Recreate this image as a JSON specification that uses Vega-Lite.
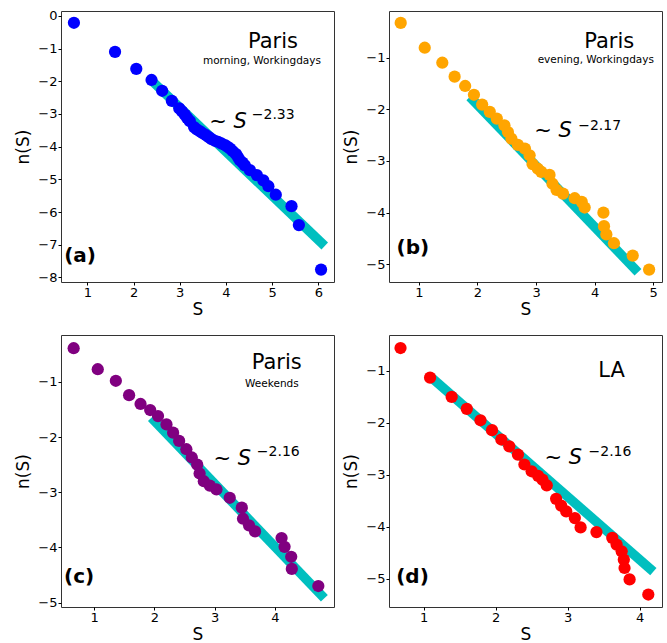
{
  "$schema": "https://vega.github.io/schema/vega-lite/v6.json",
  "autosize": {"type": "pad"},
  "padding": {"left": 14, "top": 9, "right": 4, "bottom": 4},
  "background": "white",
  "config": {
    "font": "DejaVu Sans",
    "view": {"stroke": "#333333", "strokeWidth": 1},
    "axis": {
      "grid": false, "domain": false,
      "tickColor": "#000000", "tickSize": 3, "tickWidth": 1, "tickCount": 20,
      "labelFont": "DejaVu Sans", "labelFontSize": 13, "labelColor": "#000000", "labelPadding": 1, "labelFlush": false, "labelOverlap": false,
      "titleFont": "DejaVu Sans", "titleFontSize": 17, "titleFontWeight": "normal", "titleColor": "#000000"
    },
    "axisX": {"titlePadding": 2},
    "axisY": {"titlePadding": 5}
  },
  "datasets": {
    "pa": [
      {"S": 0.71, "n": -0.21}, {"S": 1.60, "n": -1.10}, {"S": 2.06, "n": -1.62}, {"S": 2.39, "n": -1.96},
      {"S": 2.62, "n": -2.29}, {"S": 2.83, "n": -2.60}, {"S": 2.99, "n": -2.83}, {"S": 3.05, "n": -2.92},
      {"S": 3.11, "n": -3.02}, {"S": 3.16, "n": -3.12}, {"S": 3.22, "n": -3.22}, {"S": 3.31, "n": -3.40},
      {"S": 3.37, "n": -3.47}, {"S": 3.44, "n": -3.53}, {"S": 3.50, "n": -3.59}, {"S": 3.57, "n": -3.65},
      {"S": 3.63, "n": -3.71}, {"S": 3.69, "n": -3.77}, {"S": 3.76, "n": -3.82}, {"S": 3.83, "n": -3.85},
      {"S": 3.90, "n": -3.90}, {"S": 3.98, "n": -3.95}, {"S": 4.03, "n": -4.00}, {"S": 4.09, "n": -4.06},
      {"S": 4.15, "n": -4.14}, {"S": 4.22, "n": -4.23}, {"S": 4.26, "n": -4.32}, {"S": 4.30, "n": -4.41},
      {"S": 4.36, "n": -4.49}, {"S": 4.41, "n": -4.57}, {"S": 4.52, "n": -4.72}, {"S": 4.67, "n": -4.87},
      {"S": 4.81, "n": -5.03}, {"S": 4.92, "n": -5.21}, {"S": 5.08, "n": -5.47}, {"S": 5.42, "n": -5.82},
      {"S": 5.58, "n": -6.40}, {"S": 6.06, "n": -7.76}
    ],
    "pb": [
      {"S": 0.69, "n": -0.33}, {"S": 1.10, "n": -0.81}, {"S": 1.40, "n": -1.10}, {"S": 1.61, "n": -1.37},
      {"S": 1.79, "n": -1.55}, {"S": 1.94, "n": -1.72}, {"S": 2.08, "n": -1.91}, {"S": 2.21, "n": -2.05},
      {"S": 2.33, "n": -2.18}, {"S": 2.46, "n": -2.31}, {"S": 2.52, "n": -2.44}, {"S": 2.58, "n": -2.57},
      {"S": 2.69, "n": -2.69}, {"S": 2.81, "n": -2.76}, {"S": 2.89, "n": -2.89}, {"S": 2.94, "n": -3.06},
      {"S": 3.03, "n": -3.15}, {"S": 3.09, "n": -3.21}, {"S": 3.23, "n": -3.27}, {"S": 3.28, "n": -3.44},
      {"S": 3.35, "n": -3.56}, {"S": 3.46, "n": -3.63}, {"S": 3.66, "n": -3.72}, {"S": 3.78, "n": -3.79},
      {"S": 3.83, "n": -3.90}, {"S": 4.15, "n": -4.00}, {"S": 4.16, "n": -4.26}, {"S": 4.20, "n": -4.42},
      {"S": 4.33, "n": -4.59}, {"S": 4.65, "n": -4.83}, {"S": 4.93, "n": -5.10}
    ],
    "pc": [
      {"S": 0.66, "n": -0.39}, {"S": 1.06, "n": -0.77}, {"S": 1.36, "n": -0.98}, {"S": 1.58, "n": -1.24},
      {"S": 1.77, "n": -1.40}, {"S": 1.93, "n": -1.51}, {"S": 2.06, "n": -1.62}, {"S": 2.20, "n": -1.77},
      {"S": 2.31, "n": -1.92}, {"S": 2.41, "n": -2.07}, {"S": 2.53, "n": -2.22}, {"S": 2.62, "n": -2.37},
      {"S": 2.71, "n": -2.50}, {"S": 2.75, "n": -2.66}, {"S": 2.82, "n": -2.80}, {"S": 2.92, "n": -2.88},
      {"S": 3.03, "n": -2.95}, {"S": 3.25, "n": -3.10}, {"S": 3.45, "n": -3.28}, {"S": 3.47, "n": -3.48},
      {"S": 3.57, "n": -3.60}, {"S": 3.67, "n": -3.71}, {"S": 4.11, "n": -3.83}, {"S": 4.16, "n": -3.99},
      {"S": 4.27, "n": -4.17}, {"S": 4.28, "n": -4.39}, {"S": 4.72, "n": -4.70}
    ],
    "pd": [
      {"S": 0.68, "n": -0.56}, {"S": 1.09, "n": -1.13}, {"S": 1.39, "n": -1.50}, {"S": 1.60, "n": -1.73},
      {"S": 1.79, "n": -1.95}, {"S": 1.95, "n": -2.14}, {"S": 2.08, "n": -2.32}, {"S": 2.19, "n": -2.45},
      {"S": 2.31, "n": -2.61}, {"S": 2.40, "n": -2.80}, {"S": 2.50, "n": -2.93}, {"S": 2.59, "n": -3.02},
      {"S": 2.65, "n": -3.09}, {"S": 2.71, "n": -3.20}, {"S": 2.84, "n": -3.46}, {"S": 2.91, "n": -3.59},
      {"S": 2.98, "n": -3.70}, {"S": 3.10, "n": -3.83}, {"S": 3.18, "n": -4.01}, {"S": 3.40, "n": -4.10},
      {"S": 3.62, "n": -4.21}, {"S": 3.68, "n": -4.34}, {"S": 3.75, "n": -4.47}, {"S": 3.78, "n": -4.63},
      {"S": 3.79, "n": -4.79}, {"S": 3.86, "n": -5.01}, {"S": 4.12, "n": -5.30}
    ],
    "fa": [{"S": 2.37, "n": -1.95}, {"S": 6.14, "n": -7.04}],
    "fb": [{"S": 1.87, "n": -1.76}, {"S": 4.74, "n": -5.15}],
    "fc": [{"S": 1.95, "n": -1.65}, {"S": 4.82, "n": -4.92}],
    "fd": [{"S": 1.11, "n": -1.13}, {"S": 4.19, "n": -4.86}]
  },
  "bounds": "flush",
  "columns": 2,
  "spacing": {"row": 53, "column": 55},
  "concat": [
    {
      "width": 273, "height": 271,
      "layer": [
        {"data": {"name": "fa"}, "mark": {"type": "line", "color": "#00BFBF", "strokeWidth": 9.5, "strokeCap": "butt"},
         "encoding": {
            "x": {"field": "S", "type": "quantitative", "scale": {"domain": [0.43, 6.34], "nice": false, "zero": false}, "axis": {"title": "S", "values": [1, 2, 3, 4, 5, 6], "format": "d", "tickCount": 20}},
            "y": {"field": "n", "type": "quantitative", "scale": {"domain": [-8.14, 0.15], "nice": false, "zero": false}, "axis": {"title": "n(S)", "values": [0, -1, -2, -3, -4, -5, -6, -7, -8], "format": "d", "tickCount": 20, "labelOverlap": false}}}},
        {"data": {"name": "pa"}, "mark": {"type": "circle", "size": 150, "color": "#0000FF", "opacity": 1},
         "encoding": {"x": {"field": "S", "type": "quantitative"}, "y": {"field": "n", "type": "quantitative"}}},
        {"data": {"values": [{"t": "Paris"}]}, "mark": {"type": "text", "fontSize": 21, "align": "center", "baseline": "middle", "color": "#000000"}, "encoding": {"text": {"field": "t"}, "x": {"datum": 5.02, "type": "quantitative"}, "y": {"datum": -0.80, "type": "quantitative"}}},
        {"data": {"values": [{"t": "morning, Workingdays"}]}, "mark": {"type": "text", "fontSize": 10.5, "align": "center", "baseline": "middle", "color": "#000000"}, "encoding": {"text": {"field": "t"}, "x": {"datum": 4.78, "type": "quantitative"}, "y": {"datum": -1.39, "type": "quantitative"}}},
        {"data": {"values": [{"t": "~ S"}]}, "mark": {"type": "text", "fontSize": 21, "fontStyle": "italic", "align": "left", "baseline": "alphabetic", "color": "#000000"}, "encoding": {"text": {"field": "t"}, "x": {"datum": 3.64, "type": "quantitative"}, "y": {"datum": -3.43, "type": "quantitative"}}},
        {"data": {"values": [{"t": "−2.33"}]}, "mark": {"type": "text", "fontSize": 14, "align": "left", "baseline": "alphabetic", "color": "#000000"}, "encoding": {"text": {"field": "t"}, "x": {"datum": 4.56, "type": "quantitative"}, "y": {"datum": -3.16, "type": "quantitative"}}},
        {"data": {"values": [{"t": "(a)"}]}, "mark": {"type": "text", "fontSize": 20, "fontWeight": "bold", "align": "left", "baseline": "middle", "color": "#000000"}, "encoding": {"text": {"field": "t"}, "x": {"datum": 0.50, "type": "quantitative"}, "y": {"datum": -7.35, "type": "quantitative"}}}
      ]
    },
    {
      "width": 273, "height": 271,
      "layer": [
        {"data": {"name": "fb"}, "mark": {"type": "line", "color": "#00BFBF", "strokeWidth": 9.5, "strokeCap": "butt"},
         "encoding": {
            "x": {"field": "S", "type": "quantitative", "scale": {"domain": [0.49, 5.15], "nice": false, "zero": false}, "axis": {"title": "S", "values": [1, 2, 3, 4, 5], "format": "d", "tickCount": 20}},
            "y": {"field": "n", "type": "quantitative", "scale": {"domain": [-5.34, -0.10], "nice": false, "zero": false}, "axis": {"title": "n(S)", "values": [-1, -2, -3, -4, -5], "format": "d", "tickCount": 20}}}},
        {"data": {"name": "pb"}, "mark": {"type": "circle", "size": 150, "color": "#FFA500", "opacity": 1},
         "encoding": {"x": {"field": "S", "type": "quantitative"}, "y": {"field": "n", "type": "quantitative"}}},
        {"data": {"values": [{"t": "Paris"}]}, "mark": {"type": "text", "fontSize": 21, "align": "center", "baseline": "middle", "color": "#000000"}, "encoding": {"text": {"field": "t"}, "x": {"datum": 4.25, "type": "quantitative"}, "y": {"datum": -0.70, "type": "quantitative"}}},
        {"data": {"values": [{"t": "evening, Workingdays"}]}, "mark": {"type": "text", "fontSize": 10.5, "align": "center", "baseline": "middle", "color": "#000000"}, "encoding": {"text": {"field": "t"}, "x": {"datum": 4.02, "type": "quantitative"}, "y": {"datum": -1.05, "type": "quantitative"}}},
        {"data": {"values": [{"t": "~ S"}]}, "mark": {"type": "text", "fontSize": 21, "fontStyle": "italic", "align": "left", "baseline": "alphabetic", "color": "#000000"}, "encoding": {"text": {"field": "t"}, "x": {"datum": 2.97, "type": "quantitative"}, "y": {"datum": -2.53, "type": "quantitative"}}},
        {"data": {"values": [{"t": "−2.17"}]}, "mark": {"type": "text", "fontSize": 14, "align": "left", "baseline": "alphabetic", "color": "#000000"}, "encoding": {"text": {"field": "t"}, "x": {"datum": 3.72, "type": "quantitative"}, "y": {"datum": -2.40, "type": "quantitative"}}},
        {"data": {"values": [{"t": "(b)"}]}, "mark": {"type": "text", "fontSize": 20, "fontWeight": "bold", "align": "left", "baseline": "middle", "color": "#000000"}, "encoding": {"text": {"field": "t"}, "x": {"datum": 0.62, "type": "quantitative"}, "y": {"datum": -4.69, "type": "quantitative"}}}
      ]
    },
    {
      "width": 273, "height": 272,
      "layer": [
        {"data": {"name": "fc"}, "mark": {"type": "line", "color": "#00BFBF", "strokeWidth": 9.5, "strokeCap": "butt"},
         "encoding": {
            "x": {"field": "S", "type": "quantitative", "scale": {"domain": [0.45, 4.98], "nice": false, "zero": false}, "axis": {"title": "S", "values": [1, 2, 3, 4], "format": "d", "tickCount": 20}},
            "y": {"field": "n", "type": "quantitative", "scale": {"domain": [-5.08, -0.15], "nice": false, "zero": false}, "axis": {"title": "n(S)", "values": [-1, -2, -3, -4, -5], "format": "d", "tickCount": 20}}}},
        {"data": {"name": "pc"}, "mark": {"type": "circle", "size": 150, "color": "#800080", "opacity": 1},
         "encoding": {"x": {"field": "S", "type": "quantitative"}, "y": {"field": "n", "type": "quantitative"}}},
        {"data": {"values": [{"t": "Paris"}]}, "mark": {"type": "text", "fontSize": 21, "align": "center", "baseline": "middle", "color": "#000000"}, "encoding": {"text": {"field": "t"}, "x": {"datum": 4.03, "type": "quantitative"}, "y": {"datum": -0.65, "type": "quantitative"}}},
        {"data": {"values": [{"t": "Weekends"}]}, "mark": {"type": "text", "fontSize": 10.5, "align": "center", "baseline": "middle", "color": "#000000"}, "encoding": {"text": {"field": "t"}, "x": {"datum": 3.95, "type": "quantitative"}, "y": {"datum": -1.03, "type": "quantitative"}}},
        {"data": {"values": [{"t": "~ S"}]}, "mark": {"type": "text", "fontSize": 21, "fontStyle": "italic", "align": "left", "baseline": "alphabetic", "color": "#000000"}, "encoding": {"text": {"field": "t"}, "x": {"datum": 2.98, "type": "quantitative"}, "y": {"datum": -2.50, "type": "quantitative"}}},
        {"data": {"values": [{"t": "−2.16"}]}, "mark": {"type": "text", "fontSize": 14, "align": "left", "baseline": "alphabetic", "color": "#000000"}, "encoding": {"text": {"field": "t"}, "x": {"datum": 3.70, "type": "quantitative"}, "y": {"datum": -2.35, "type": "quantitative"}}},
        {"data": {"values": [{"t": "(c)"}]}, "mark": {"type": "text", "fontSize": 20, "fontWeight": "bold", "align": "left", "baseline": "middle", "color": "#000000"}, "encoding": {"text": {"field": "t"}, "x": {"datum": 0.50, "type": "quantitative"}, "y": {"datum": -4.54, "type": "quantitative"}}}
      ]
    },
    {
      "width": 273, "height": 272,
      "layer": [
        {"data": {"name": "fd"}, "mark": {"type": "line", "color": "#00BFBF", "strokeWidth": 9.5, "strokeCap": "butt"},
         "encoding": {
            "x": {"field": "S", "type": "quantitative", "scale": {"domain": [0.52, 4.31], "nice": false, "zero": false}, "axis": {"title": "S", "values": [1, 2, 3, 4], "format": "d", "tickCount": 20}},
            "y": {"field": "n", "type": "quantitative", "scale": {"domain": [-5.54, -0.31], "nice": false, "zero": false}, "axis": {"title": "n(S)", "values": [-1, -2, -3, -4, -5], "format": "d", "tickCount": 20}}}},
        {"data": {"name": "pd"}, "mark": {"type": "circle", "size": 150, "color": "#FF0000", "opacity": 1},
         "encoding": {"x": {"field": "S", "type": "quantitative"}, "y": {"field": "n", "type": "quantitative"}}},
        {"data": {"values": [{"t": "LA"}]}, "mark": {"type": "text", "fontSize": 21, "align": "center", "baseline": "middle", "color": "#000000"}, "encoding": {"text": {"field": "t"}, "x": {"datum": 3.61, "type": "quantitative"}, "y": {"datum": -1.00, "type": "quantitative"}}},
        {"data": {"values": [{"t": "~ S"}]}, "mark": {"type": "text", "fontSize": 21, "fontStyle": "italic", "align": "left", "baseline": "alphabetic", "color": "#000000"}, "encoding": {"text": {"field": "t"}, "x": {"datum": 2.68, "type": "quantitative"}, "y": {"datum": -2.80, "type": "quantitative"}}},
        {"data": {"values": [{"t": "−2.16"}]}, "mark": {"type": "text", "fontSize": 14, "align": "left", "baseline": "alphabetic", "color": "#000000"}, "encoding": {"text": {"field": "t"}, "x": {"datum": 3.29, "type": "quantitative"}, "y": {"datum": -2.64, "type": "quantitative"}}},
        {"data": {"values": [{"t": "(d)"}]}, "mark": {"type": "text", "fontSize": 20, "fontWeight": "bold", "align": "left", "baseline": "middle", "color": "#000000"}, "encoding": {"text": {"field": "t"}, "x": {"datum": 0.62, "type": "quantitative"}, "y": {"datum": -4.96, "type": "quantitative"}}}
      ]
    }
  ]
}
